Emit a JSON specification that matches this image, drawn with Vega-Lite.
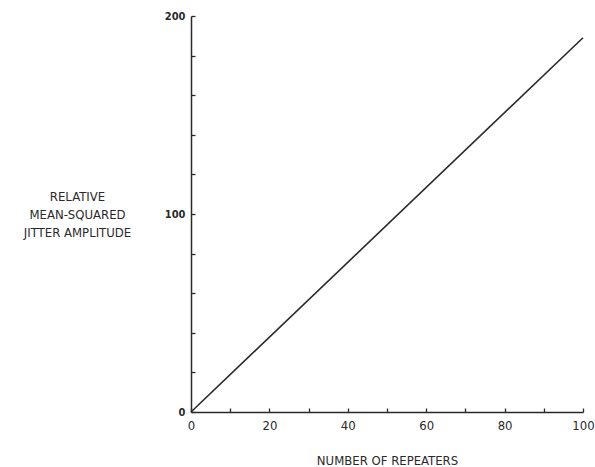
{
  "$schema": "https://vega.github.io/schema/vega-lite/v6.json",
  "width": 392,
  "height": 396,
  "autosize": {"type": "none"},
  "padding": {"left": 191, "top": 16, "right": 12, "bottom": 55},
  "background": "white",
  "config": {"view": {"stroke": null}, "font": "DejaVu Sans Condensed, Liberation Sans, sans-serif"},
  "data": {"values": [
    {"repeaters": 0, "jitter": 0},
    {"repeaters": 100, "jitter": 189}
  ]},
  "mark": {"type": "line", "color": "#2a2a2a", "strokeWidth": 1.6},
  "encoding": {
    "x": {
      "field": "repeaters", "type": "quantitative",
      "scale": {"domain": [0, 100], "nice": false, "zero": false},
      "axis": {
        "title": "NUMBER OF REPEATERS",
        "values": [0, 10, 20, 30, 40, 50, 60, 70, 80, 90, 100],
        "labelExpr": "datum.value % 20 == 0 ? datum.label : ''",
        "grid": false,
        "domainColor": "#2a2a2a", "domainWidth": 1.5,
        "tickColor": "#2a2a2a", "tickSize": -4, "tickWidth": 1.3,
        "labelPadding": 11, "labelFontSize": 13, "labelColor": "#2a2a2a",
        "labelFlush": false,
        "titleFontSize": 13, "titleFontWeight": "normal", "titleColor": "#2a2a2a",
        "titleBaseline": "top", "titleY": 42
      }
    },
    "y": {
      "field": "jitter", "type": "quantitative",
      "scale": {"domain": [0, 200], "nice": false, "zero": false},
      "axis": {
        "title": ["RELATIVE", "MEAN-SQUARED", "JITTER AMPLITUDE"],
        "values": [0, 20, 40, 60, 80, 100, 120, 140, 160, 180, 200],
        "labelExpr": "datum.value % 100 == 0 ? datum.label : ''",
        "grid": false,
        "domainColor": "#2a2a2a", "domainWidth": 1.5,
        "tickColor": "#2a2a2a", "tickSize": -4, "tickWidth": 1.3,
        "labelPadding": 10, "labelFontSize": 11, "labelFontWeight": "bold", "labelColor": "#2a2a2a",
        "labelFlush": false,
        "titleAngle": 0, "titleAlign": "center", "titleBaseline": "middle",
        "titleX": -114, "titleY": 180, "titleLineHeight": 18,
        "titleFontSize": 13, "titleFontWeight": "normal", "titleColor": "#2a2a2a"
      }
    }
  }
}
